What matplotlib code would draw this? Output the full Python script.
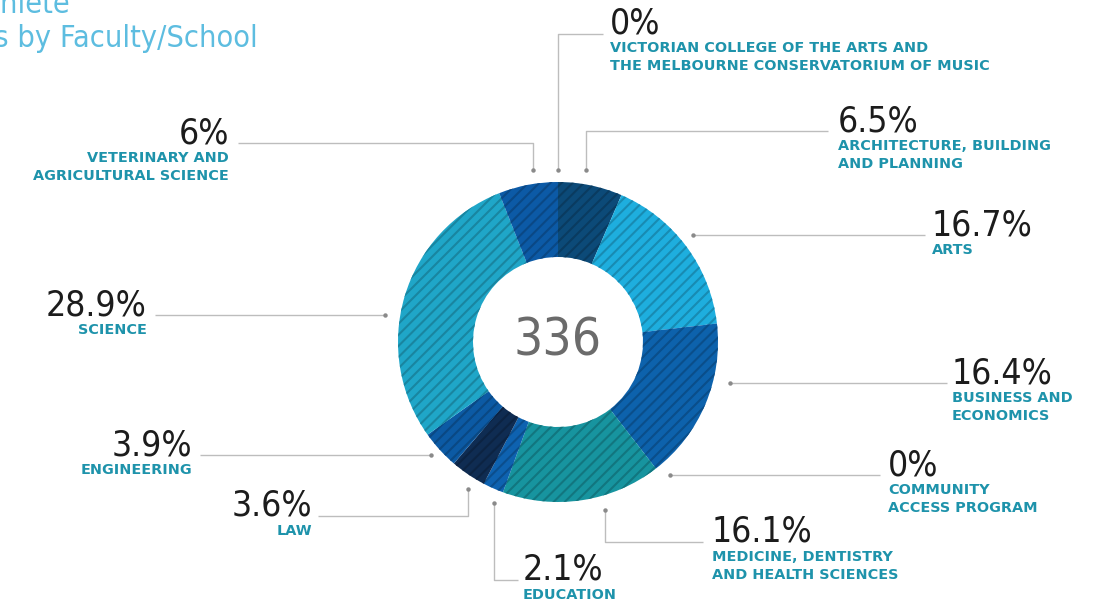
"""Donut chart of student athlete participants by faculty/school."""
import matplotlib
matplotlib.use("Agg")
import matplotlib.pyplot as plt
from matplotlib.colors import to_rgb

# ---- data -------------------------------------------------------------
faculties = [
    "ARCHITECTURE, BUILDING\nAND PLANNING",
    "ARTS",
    "BUSINESS AND\nECONOMICS",
    "COMMUNITY\nACCESS PROGRAM",
    "MEDICINE, DENTISTRY\nAND HEALTH SCIENCES",
    "EDUCATION",
    "LAW",
    "ENGINEERING",
    "SCIENCE",
    "VETERINARY AND\nAGRICULTURAL SCIENCE",
    "VICTORIAN COLLEGE OF THE ARTS AND\nTHE MELBOURNE CONSERVATORIUM OF MUSIC",
]
shares = [6.5, 16.7, 16.4, 0.0, 16.1, 2.1, 3.6, 3.9, 28.9, 6.0, 0.0]
total_athletes = 336

colors = ["#0c4a78", "#1eaede", "#0d62ac", "#0d62ac", "#17949f", "#0e62b0",
          "#0f2c52", "#0c5aa4", "#1fa6c8", "#0c5aa6", "#0c5aa6"]

# label layout in pixels (x, y down): text anchor, alignment, leader path
label_layout = [
    (838, 131, "left", [(586, 170), (586, 131), (828, 131)]),
    (932, 235, "left", [(693, 235), (925, 235)]),
    (952, 383, "left", [(730, 383), (947, 383)]),
    (888, 475, "left", [(670, 475), (880, 475)]),
    (712, 542, "left", [(605, 510), (605, 542), (703, 542)]),
    (523, 580, "left", [(494, 503), (494, 580), (518, 580)]),
    (312, 516, "right", [(468, 489), (468, 516), (318, 516)]),
    (192, 455, "right", [(431, 455), (200, 455)]),
    (147, 315, "right", [(385, 315), (155, 315)]),
    (229, 143, "right", [(533, 170), (533, 143), (238, 143)]),
    (610, 33, "left", [(558, 170), (558, 34), (603, 34)]),
]

W, H = 1095, 600
CX, CY, R_OUT, RING = 558, 342, 160, 75

NAME_COLOR = "#1e93ab"
PCT_COLOR = "#1c1c1c"
cond = dict(family="DejaVu Sans", fontstretch="condensed")

plt.rcParams["hatch.linewidth"] = 1.5

fig = plt.figure(figsize=(W / 100, H / 100), dpi=100)
ax = fig.add_axes([0, 0, 1, 1])


def py(y):
    # convert a top-down pixel row to data y
    return H - y


def shade(c, f=0.8):
    r, g, b = to_rgb(c)
    return (r * f, g * f, b * f)


wedges, _ = ax.pie(
    shares,
    colors=colors,
    startangle=90,
    counterclock=False,
    radius=R_OUT,
    center=(CX, py(CY)),
    wedgeprops=dict(width=RING, linewidth=0),
)
for w, c in zip(wedges, colors):
    w.set_hatch("///")
    w.set_edgecolor(shade(c))
    w.set_linewidth(0)

ax.set_xlim(0, W)
ax.set_ylim(0, H)
ax.set_aspect("equal", adjustable="datalim")
ax.axis("off")

ax.text(CX, py(CY), str(total_athletes), ha="center", va="center",
        fontsize=37, color="#6b6b6b", **cond)

# leader lines, percentages and faculty names
for name, val, (tx, ty, align, path) in zip(faculties, shares, label_layout):
    xs = [p[0] for p in path]
    ys = [py(p[1]) for p in path]
    ax.plot(xs, ys, color="#bdbdbd", lw=1.0, solid_capstyle="butt")
    ax.plot(xs[0], ys[0], "o", ms=3.2, color="#8a8a8a", mec="none")
    pct = f"{val:g}%"
    ax.text(tx, py(ty), pct, ha=align, va="baseline", fontsize=25.5,
            color=PCT_COLOR, **cond)
    ax.text(tx, py(ty + 8), name, ha=align, va="top", fontsize=10.4,
            fontweight="bold", color=NAME_COLOR, family="DejaVu Sans",
            linespacing=1.35)

# title block, partly off the left edge
fig.text(70 / W, 1 - 13 / H, "Student Athlete", ha="right", va="baseline",
         fontsize=22, color="#5dbde0", **cond)
fig.text(258 / W, 1 - 47 / H, "Participants by Faculty/School", ha="right",
         va="baseline", fontsize=22, color="#5dbde0", **cond)

fig.savefig("out.png", dpi=100)
plt.close(fig)
